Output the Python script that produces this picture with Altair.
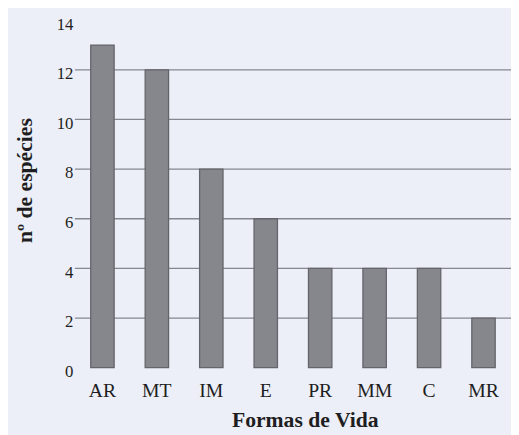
import altair as alt
import pandas as pd

categories = ["AR", "MT", "IM", "E", "PR", "MM", "C", "MR"]
counts = [13, 12, 8, 6, 4, 4, 4, 2]
grid_values = [2, 4, 6, 8, 10, 12]
y_ticks = [0, 2, 4, 6, 8, 10, 12, 14]
y_title = ["nº de espécies"]
x_title = ["Formas de Vida"]

df = pd.DataFrame({"forma": categories, "n": counts})
grid_df = pd.DataFrame({"g": grid_values})

FONT = "Liberation Serif"
TXT = "#1e1e22"

grid = alt.Chart(grid_df).mark_rule(color="#868890", strokeWidth=1.3).encode(
    y=alt.Y("g:Q", scale=alt.Scale(domain=[0, 14]))
)

bars = alt.Chart(df).mark_bar(
    color="#86878d", stroke="#64656b", strokeWidth=1.3
).encode(
    x=alt.X(
        "forma:N",
        sort=categories,
        scale=alt.Scale(paddingInner=0.57, paddingOuter=0.29),
        axis=alt.Axis(
            title=None,
            labelAngle=0,
            labelFont=FONT,
            labelFontSize=20,
            labelColor=TXT,
            labelPadding=13,
            ticks=False,
            domain=False,
        ),
    ),
    y=alt.Y(
        "n:Q",
        scale=alt.Scale(domain=[0, 14], nice=False),
        axis=alt.Axis(
            title=None,
            values=y_ticks,
            grid=False,
            domain=False,
            ticks=False,
            labelFont=FONT,
            labelFontSize=17,
            labelColor=TXT,
            labelPadding=2,
            labelOffset=4,
        ),
    ),
)

ytitle = alt.Chart(pd.DataFrame({"t": y_title})).mark_text(
    font=FONT, fontSize=22, fontWeight="bold", angle=270,
    color=TXT, align="center", baseline="middle"
).encode(text="t:N", x=alt.value(-51), y=alt.value(163))

xtitle = alt.Chart(pd.DataFrame({"t": x_title})).mark_text(
    font=FONT, fontSize=22, fontWeight="bold",
    color=TXT, align="center", baseline="middle"
).encode(text="t:N", x=alt.value(234), y=alt.value(406))

chart = (
    alt.layer(grid, bars, ytitle, xtitle)
    .properties(
        width=443,
        height=353,
        padding={"left": 68, "top": 9, "right": 0, "bottom": 65},
        autosize=alt.AutoSizeParams(type="none"),
        background="#eceff7",
    )
    .configure_view(stroke=None)
)

chart.save("out.html", embed_options={"renderer": "svg", "actions": False})
